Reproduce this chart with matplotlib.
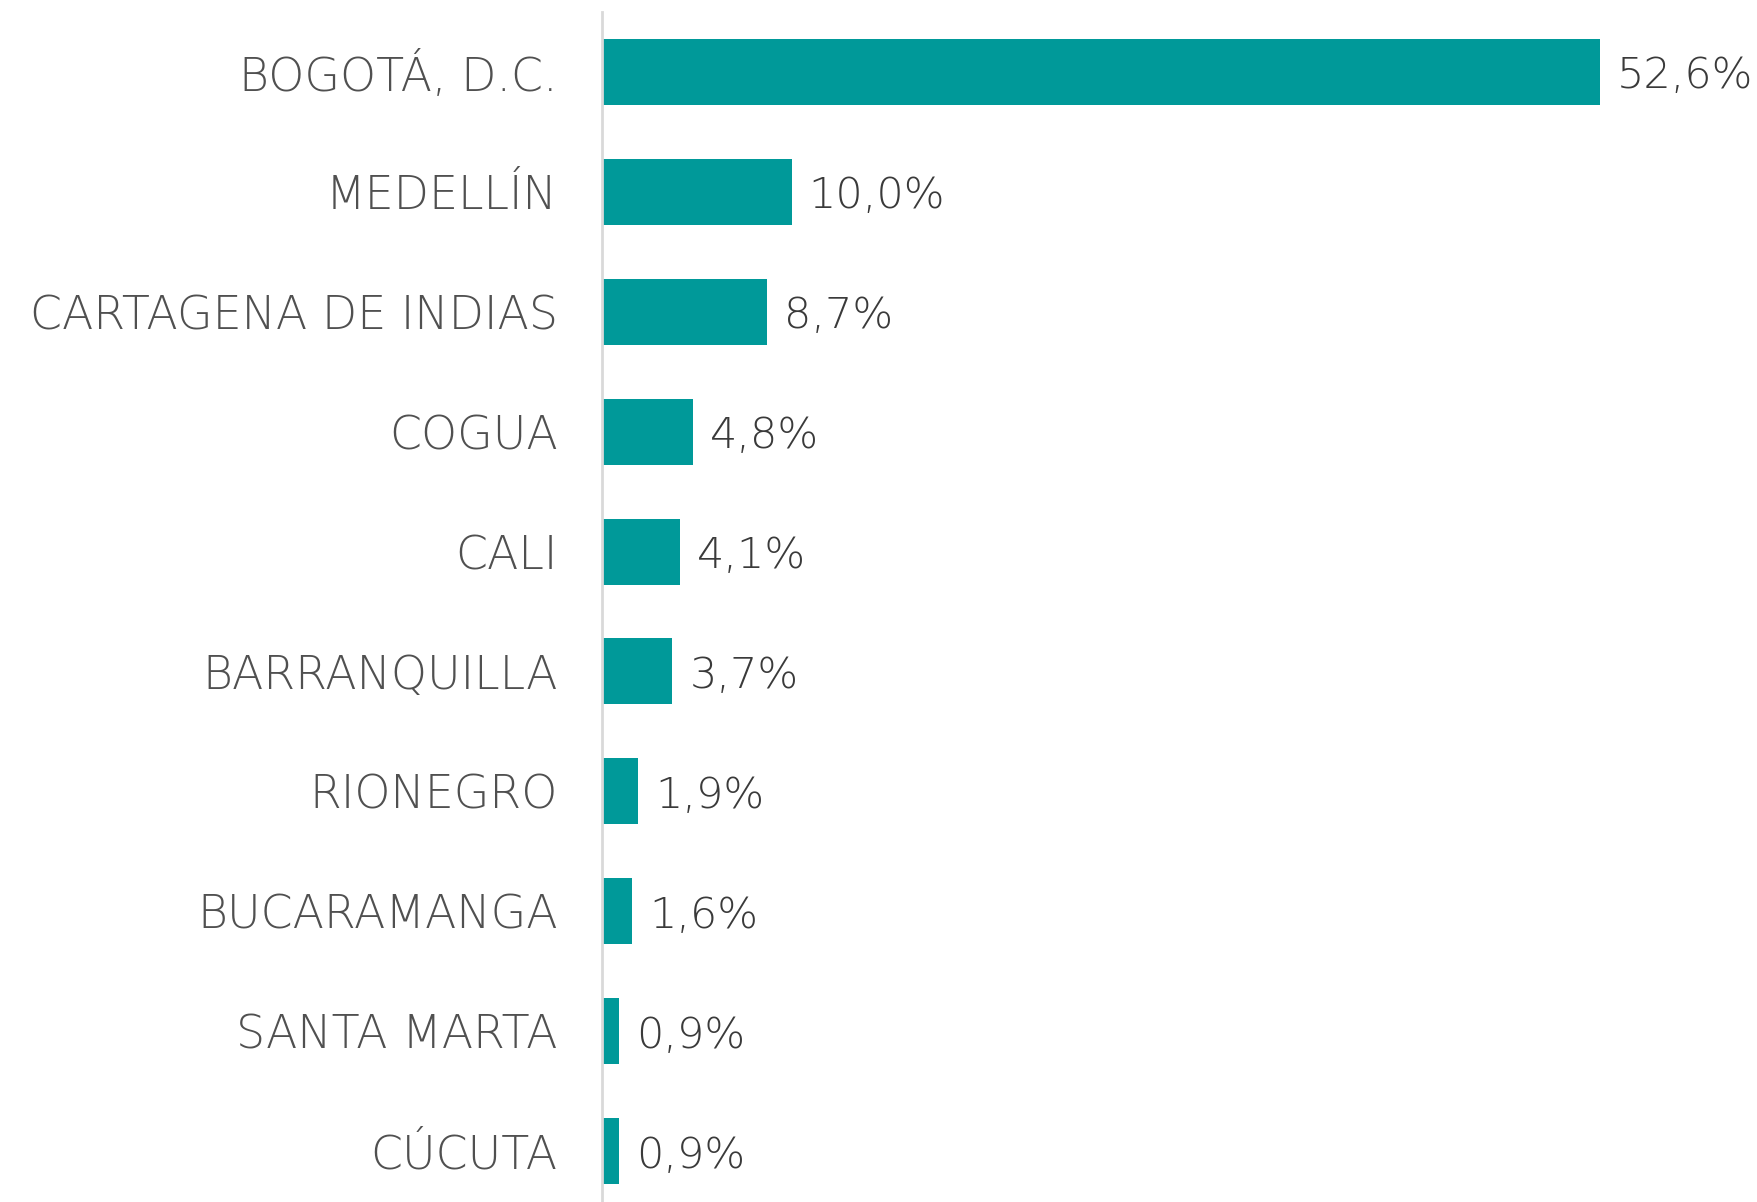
import matplotlib
matplotlib.use("Agg")
import matplotlib.pyplot as plt

categories = ["BOGOTÁ, D.C.", "MEDELLÍN", "CARTAGENA DE INDIAS", "COGUA", "CALI",
              "BARRANQUILLA", "RIONEGRO", "BUCARAMANGA", "SANTA MARTA", "CÚCUTA"]
values = [52.6, 10.0, 8.7, 4.8, 4.1, 3.7, 1.9, 1.6, 0.9, 0.9]
value_labels = ["52,6%", "10,0%", "8,7%", "4,8%", "4,1%", "3,7%", "1,9%", "1,6%", "0,9%", "0,9%"]

W, H = 1757, 1202
fig = plt.figure(figsize=(W / 100, H / 100), dpi=100)
left = 602 / W
right = 1.0
top_px, bot_px = 12, 1211
ax = fig.add_axes([left, 1 - bot_px / H, right - left, (bot_px - top_px) / H])

n = len(categories)
ypos = list(range(n))
ax.barh(ypos, values, height=0.55, color="#009999", zorder=2)
ax.set_ylim(n - 0.5, -0.5)
ax.set_xlim(0, (W - 602) / (998 / 52.6))

font = "DejaVu Sans"
for y, v, lab in zip(ypos, values, value_labels):
    ax.annotate(lab, (v, y), xytext=(17, -4), textcoords="offset pixels",
                ha="left", va="center", fontsize=31, color="#3a3a3a", family=font,
                fontweight="light")

ax.set_yticks(ypos)
ax.set_yticklabels(categories, fontsize=33, color="#505050", family=font, fontweight="light")
ax.tick_params(axis="y", length=0, pad=32)
ax.set_xticks([])
for s in ["top", "right", "bottom"]:
    ax.spines[s].set_visible(False)
ax.spines["left"].set_color("#d9d9d9")
ax.spines["left"].set_linewidth(2)

fig.savefig("out.png", dpi=100)
